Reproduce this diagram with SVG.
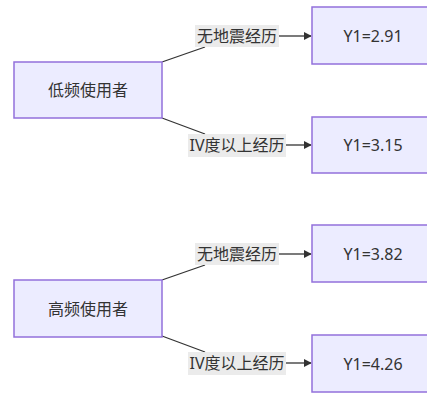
<svg xmlns="http://www.w3.org/2000/svg" width="427" height="395" viewBox="0 0 427 395">
<defs>
<marker id="arr" viewBox="0 0 10 10" refX="9" refY="5" markerWidth="8" markerHeight="8" orient="auto" markerUnits="userSpaceOnUse"><path d="M0,0 L10,5 L0,10 z" fill="#333"/></marker>
<style>
.node rect{fill:#ECECFF;stroke:#9370DB;stroke-width:1.5}
text{font-family:"Noto Sans","Noto Sans CJK SC",sans-serif;font-size:16px;fill:#333;text-anchor:middle;dominant-baseline:central}
.edge{fill:none;stroke:#333;stroke-width:1.3}
.lbl rect{fill:#E8E8E8;opacity:0.85}
</style>
</defs>
<rect width="427" height="395" fill="#fff"/>
<g id="connectors">
<path class="edge" d="M162,62 L205,47"/>
<path class="edge" d="M279,36 L311,36" marker-end="url(#arr)"/>
<path class="edge" d="M162,118 L205,134"/>
<path class="edge" d="M286,145 L311,145" marker-end="url(#arr)"/>
<path class="edge" d="M162,280 L205,265"/>
<path class="edge" d="M279,254 L311,254" marker-end="url(#arr)"/>
<path class="edge" d="M162,336 L205,352"/>
<path class="edge" d="M286,363 L311,363" marker-end="url(#arr)"/>
<g class="lbl"><rect x="195" y="25" width="84" height="22"/><text x="237" y="36">无地震经历</text></g>
<g class="lbl"><rect x="188" y="134" width="98" height="23"/><text x="237" y="145">IV度以上经历</text></g>
<g class="lbl"><rect x="195" y="243" width="84" height="22"/><text x="237" y="254">无地震经历</text></g>
<g class="lbl"><rect x="188" y="352" width="98" height="23"/><text x="237" y="363">IV度以上经历</text></g>
</g>
<g id="low" class="node"><rect x="14" y="62" width="148" height="56"/><text x="88" y="90">低频使用者</text></g>
<g id="low_a" class="node"><rect x="312" y="7" width="122" height="57"/><text x="373" y="36">Y1=2.91</text></g>
<g id="low_b" class="node"><rect x="312" y="117" width="122" height="56"/><text x="373" y="145">Y1=3.15</text></g>
<g id="high" class="node"><rect x="14" y="280" width="148" height="57"/><text x="88" y="309">高频使用者</text></g>
<g id="high_a" class="node"><rect x="312" y="225" width="122" height="57"/><text x="373" y="254">Y1=3.82</text></g>
<g id="high_b" class="node"><rect x="312" y="335" width="122" height="57"/><text x="373" y="364">Y1=4.26</text></g>
</svg>
